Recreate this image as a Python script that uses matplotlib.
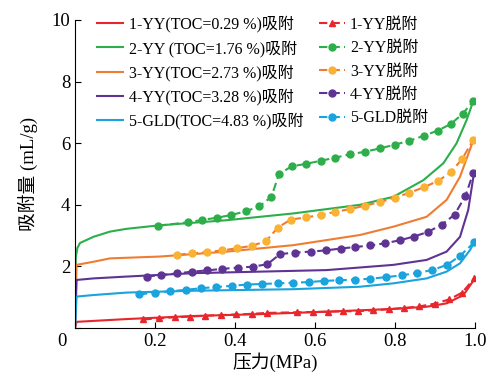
import numpy as np
import matplotlib
matplotlib.use("Agg")
import matplotlib.pyplot as plt
from matplotlib.transforms import ScaledTranslation

plt.rcParams['font.family'] = ['Liberation Serif', 'Noto Sans CJK SC']

# ---- adsorption (solid lines) ----
p_ads1 = [0.0, 0.004, 0.129, 0.296, 0.463, 0.629, 0.796, 0.879, 0.929, 0.971, 1.0]
v_ads1 = [0.0, 0.20, 0.29, 0.39, 0.45, 0.53, 0.62, 0.69, 0.80, 1.07, 1.61]

p_ads2 = [0.0, 0.002, 0.006, 0.0125, 0.046, 0.0875, 0.129, 0.208, 0.379, 0.546, 0.7125,
          0.796, 0.871, 0.921, 0.954, 0.979, 0.996]
v_ads2 = [0.0, 2.3, 2.6, 2.76, 2.96, 3.13, 3.22, 3.33, 3.50, 3.72, 4.00,
          4.26, 4.80, 5.35, 6.00, 6.75, 7.38]

p_ads3 = [0.0, 0.004, 0.046, 0.0875, 0.17, 0.2125, 0.379, 0.546, 0.7125, 0.796, 0.879,
          0.929, 0.9625, 0.996]
v_ads3 = [0.0, 2.05, 2.15, 2.26, 2.30, 2.32, 2.48, 2.69, 3.02, 3.29, 3.61,
          4.16, 4.91, 6.10]

p_ads4 = [0.0, 0.004, 0.046, 0.129, 0.296, 0.4625, 0.629, 0.796, 0.879, 0.929, 0.9625,
          0.983, 0.996]
v_ads4 = [0.0, 1.56, 1.61, 1.67, 1.78, 1.83, 1.88, 2.05, 2.21, 2.48, 2.96, 3.83, 4.91]

p_ads5 = [0.0, 0.004, 0.046, 0.129, 0.296, 0.546, 0.7125, 0.796, 0.879, 0.929, 0.9625,
          0.9875, 0.998]
v_ads5 = [0.0, 1.02, 1.07, 1.15, 1.21, 1.26, 1.34, 1.45, 1.61, 1.83, 2.10, 2.53, 2.78]

# ---- desorption (dashed with markers) ----
p_des1 = [0.171, 0.21, 0.249, 0.2875, 0.326, 0.365, 0.403, 0.442, 0.48, 0.556, 0.594,
          0.6325, 0.671, 0.708, 0.746, 0.784, 0.8225, 0.861, 0.899, 0.936, 0.968, 0.998]
v_des1 = [0.28, 0.31, 0.35, 0.37, 0.40, 0.42, 0.44, 0.46, 0.49, 0.51, 0.52,
          0.53, 0.54, 0.55, 0.57, 0.61, 0.65, 0.70, 0.79, 0.93, 1.15, 1.61]

p_des2 = [0.208, 0.282, 0.318, 0.355, 0.391, 0.427, 0.461, 0.491, 0.51, 0.542, 0.578,
          0.614, 0.651, 0.687, 0.724, 0.762, 0.799, 0.836, 0.872, 0.907, 0.939, 0.969, 0.996]
v_des2 = [3.32, 3.43, 3.51, 3.58, 3.67, 3.79, 3.95, 4.26, 5.00, 5.25, 5.33,
          5.43, 5.53, 5.64, 5.72, 5.83, 5.95, 6.08, 6.24, 6.41, 6.62, 6.95, 7.38]

p_des3 = [0.256, 0.293, 0.331, 0.368, 0.406, 0.4425, 0.4775, 0.507, 0.539, 0.577, 0.614,
          0.651, 0.6875, 0.724, 0.7625, 0.799, 0.836, 0.872, 0.907, 0.939, 0.968, 0.996]
v_des3 = [2.38, 2.42, 2.47, 2.52, 2.59, 2.67, 2.82, 3.26, 3.52, 3.59, 3.67,
          3.77, 3.86, 3.97, 4.09, 4.23, 4.39, 4.57, 4.77, 5.05, 5.49, 6.12]

p_des4 = [0.179, 0.215, 0.254, 0.293, 0.331, 0.368, 0.407, 0.444, 0.481, 0.5125, 0.551,
          0.589, 0.627, 0.664, 0.701, 0.738, 0.775, 0.8125, 0.8475, 0.8825, 0.9175, 0.949,
          0.976, 0.996]
v_des4 = [1.67, 1.72, 1.77, 1.83, 1.87, 1.92, 1.96, 1.99, 2.07, 2.40, 2.45,
          2.48, 2.52, 2.58, 2.63, 2.68, 2.75, 2.85, 2.97, 3.12, 3.36, 3.68,
          4.29, 5.04]

p_des5 = [0.16, 0.2, 0.2375, 0.277, 0.314, 0.3525, 0.392, 0.429, 0.468, 0.507, 0.546,
          0.584, 0.623, 0.66, 0.70, 0.738, 0.777, 0.817, 0.855, 0.893, 0.93, 0.9625, 0.998]
v_des5 = [1.09, 1.15, 1.19, 1.24, 1.29, 1.33, 1.37, 1.41, 1.43, 1.45, 1.47,
          1.49, 1.53, 1.55, 1.57, 1.60, 1.65, 1.71, 1.79, 1.88, 2.05, 2.34, 2.78]

ads_labels = ['1-YY(TOC=0.29 %)吸附', '2-YY (TOC=1.76 %)吸附', '3-YY(TOC=2.73 %)吸附',
              '4-YY(TOC=3.28 %)吸附', '5-GLD(TOC=4.83 %)吸附']
des_labels = ['1-YY脱附', '2-YY脱附', '3-YY脱附', '4-YY脱附', '5-GLD脱附']

line_colors = ['#e8262b', '#2dae4a', '#ef7d31', '#5f3393', '#1aa3dd']
mark_colors = ['#e8262b', '#2dae4a', '#f9b233', '#5f3393', '#1aa3dd']
markers = ['^', 'o', 'o', 'o', 'o']

p_ads = [p_ads1, p_ads2, p_ads3, p_ads4, p_ads5]
v_ads = [v_ads1, v_ads2, v_ads3, v_ads4, v_ads5]
p_des = [p_des1, p_des2, p_des3, p_des4, p_des5]
v_des = [v_des1, v_des2, v_des3, v_des4, v_des5]

fig = plt.figure(figsize=(4.93, 3.77), dpi=100)
ax = fig.add_axes([75/493, 1-328/377, 400/493, 308/377])

hs_a, hs_d = [], []
for i in range(5):
    h, = ax.plot(p_ads[i], v_ads[i], '-', color=line_colors[i], lw=1.5, label=ads_labels[i])
    hs_a.append(h)
for i in range(5):
    h, = ax.plot(p_des[i], v_des[i], '--', color=line_colors[i], lw=1.5, dashes=(4, 2),
                 marker=markers[i], ms=5, mfc=mark_colors[i], mec=mark_colors[i],
                 label=des_labels[i])
    hs_d.append(h)

ax.set_xlim(0, 1.0)
ax.set_ylim(0, 10)
ax.spines['top'].set_visible(False)
ax.spines['right'].set_visible(False)
ax.tick_params(direction='in', length=4, labelsize=13.5)
ax.set_xticks([0, 0.2, 0.4, 0.6, 0.8, 1.0])
ax.set_xticklabels(['0', '0.2', '0.4', '0.6', '0.8', '1.0'])
ax.set_yticks([0, 2, 4, 6, 8, 10])
ax.set_yticklabels(['', '2', '4', '6', '8', '10'])
lab0 = ax.get_xticklabels()[0]
lab0.set_transform(lab0.get_transform() + ScaledTranslation(-0.13, 0, fig.dpi_scale_trans))

ax.set_xlabel('压力(MPa)', fontsize=13.5, labelpad=2)
ax.set_ylabel('吸附量 (mL/g)', fontsize=13.5, labelpad=10)

leg = ax.legend(hs_a + hs_d, ads_labels + des_labels, ncol=2, frameon=False, fontsize=11.5,
                loc='upper left', bbox_to_anchor=(0.02, 1.06), handlelength=1.6,
                handletextpad=0.35, columnspacing=1.0, labelspacing=0.46)

fig.savefig('out.png', dpi=100)
